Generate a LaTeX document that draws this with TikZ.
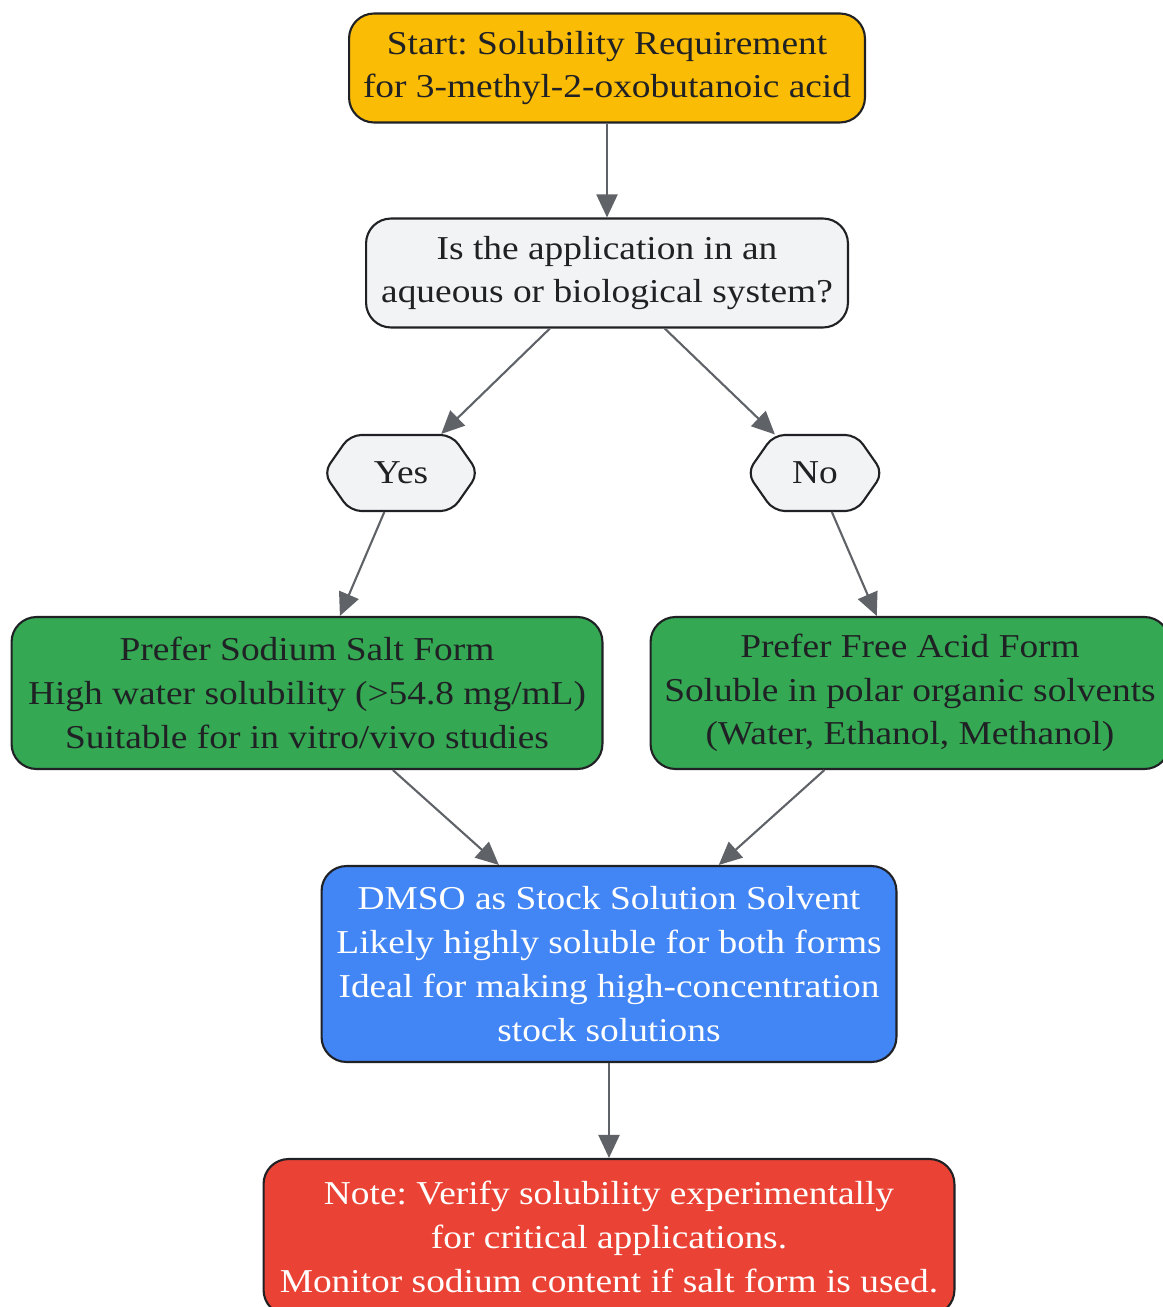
\documentclass[tikz,border=0pt]{standalone}
\usepackage{fontspec}
\setmainfont[FakeStretch=1.12]{Liberation Serif}
\usetikzlibrary{arrows.meta,shapes.symbols}
\definecolor{startyellow}{HTML}{FBBC05}
\definecolor{asklight}{HTML}{F1F3F4}
\definecolor{formgreen}{HTML}{34A853}
\definecolor{stockblue}{HTML}{4285F4}
\definecolor{notered}{HTML}{EA4335}
\definecolor{inkdark}{HTML}{202124}
\definecolor{edgegray}{HTML}{5F6368}
\tikzset{
  box/.style={draw=inkdark, line width=1.2pt, rounded corners=0.5cm, align=center,
    text=inkdark, font=\fontsize{19}{24.9}\selectfont},
  choice/.style={box, fill=asklight, signal, signal to=east and west,
    signal pointer angle=110, rounded corners=0.22cm, inner sep=2pt,
    minimum width=3.1cm, minimum height=1.52cm},
  flow/.style={draw=edgegray, line width=1.2pt, -{Triangle[length=0.46cm,width=0.42cm]}},
}
\frenchspacing
\begin{document}
\begin{tikzpicture}[x=0.02cm, y=-0.02cm]
\useasboundingbox (0,0) rectangle (1162,1307);
\node[box, fill=startyellow, minimum width=10.32cm, minimum height=2.18cm] (start) at (607,68)
  {Start: Solubility Requirement\\for 3-methyl-2-oxobutanoic acid};
\node[box, fill=asklight, minimum width=9.64cm, minimum height=2.18cm] (aqueous) at (607,273)
  {Is the application in an\\aqueous or biological system?};
\node[choice] (yes) at (401,473) {Yes};
\node[choice, minimum width=2.72cm] (no) at (815,473) {No};
\node[box, fill=formgreen, minimum width=11.82cm, minimum height=3.04cm] (salt) at (307,693)
  {Prefer Sodium Salt Form\\High water solubility (>54.8 mg/mL)\\Suitable for in vitro/vivo studies};
\node[box, fill=formgreen, minimum width=10.38cm, minimum height=3.04cm] (acid) at (910,693)
  {Prefer Free Acid Form\\Soluble in polar organic solvents\\(Water, Ethanol, Methanol)};
\node[box, fill=stockblue, text=white, minimum width=11.5cm, minimum height=3.92cm] (dmso) at (609,964)
  {DMSO as Stock Solution Solvent\\Likely highly soluble for both forms\\Ideal for making high-concentration\\stock solutions};
\node[box, fill=notered, text=white, minimum width=13.82cm, minimum height=3.12cm] (note) at (609,1237)
  {Note: Verify solubility experimentally\\for critical applications.\\Monitor sodium content if salt form is used.};
\draw[flow] (start) -- (aqueous);
\draw[flow] (aqueous) -- (yes);
\draw[flow] (aqueous) -- (no);
\draw[flow] (yes) -- (salt);
\draw[flow] (no) -- (acid);
\draw[flow] (salt) -- (dmso);
\draw[flow] (acid) -- (dmso);
\draw[flow] (dmso) -- (note);
\end{tikzpicture}
\end{document}
